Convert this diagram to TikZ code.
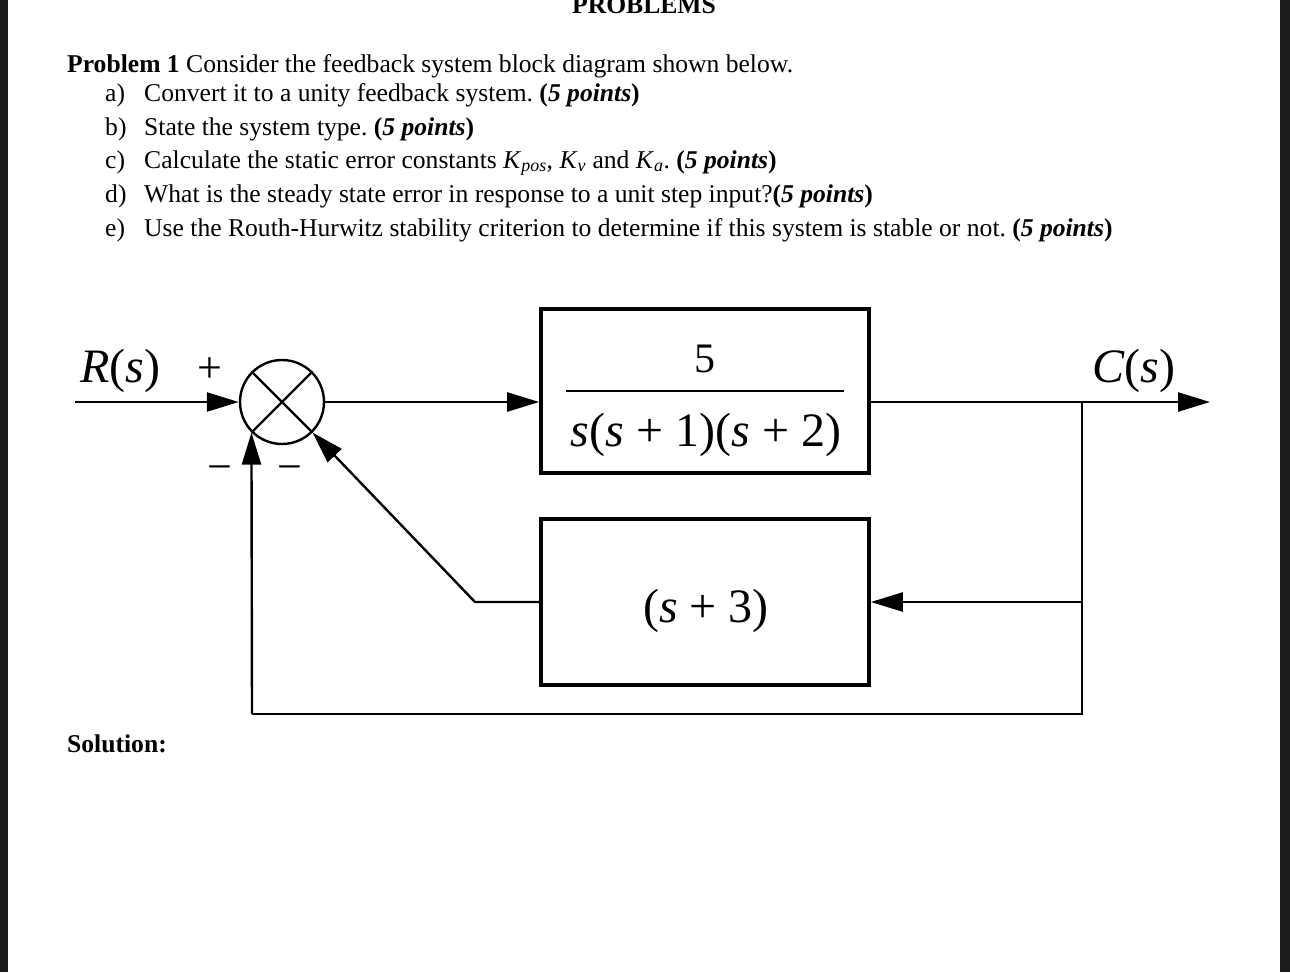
\documentclass[tikz,border=0pt]{standalone}
\usepackage{fontspec}
\setmainfont{Liberation Serif}
\usetikzlibrary{arrows.meta}
\frenchspacing
\begin{document}
\begin{tikzpicture}[x=1pt,y=-1pt,
  conn/.style={line width=2.4pt, line join=miter},
  arr/.style={conn, -{Triangle[length=32pt,width=19pt]}},
  blockbox/.style={draw, line width=3.6pt, rectangle, inner sep=0pt},
  txt/.style={inner sep=0pt, font=\fontsize{25.6}{30}\selectfont},
  dtxt/.style={inner sep=0pt, font=\fontsize{48}{58}\selectfont},
  sgn/.style={inner sep=0pt, anchor=base, font=\fontsize{44}{50}\selectfont}
]
\useasboundingbox (0,0) rectangle (1290,972);
\fill[white] (0,0) rectangle (1290,972);
% dark side bars
\fill[black!89] (0,0) rectangle (8,972);
\fill[black!89] (1280,0) rectangle (1290,972);

% ---- text ----
\begin{scope}
\clip (0,0) rectangle (1290,972);
\node[txt, anchor=base west] (title) at (572,13) {\textbf{PROBLEMS}};
\end{scope}
\node[txt, anchor=base west] (p1) at (67,72) {\textbf{Problem 1} Consider the feedback system block diagram shown below.};
\node[txt, anchor=base west] (la) at (105,101) {a)};
\node[txt, anchor=base west] (ta) at (144,101) {Convert it to a unity feedback system. \textbf{(\textit{5 points})}};
\node[txt, anchor=base west] (lb) at (105,135) {b)};
\node[txt, anchor=base west] (tb) at (144,135) {State the system type. \textbf{(\textit{5 points})}};
\node[txt, anchor=base west] (lc) at (105,168) {c)};
\node[txt, anchor=base west] (tc) at (144,168) {Calculate the static error constants \textit{K}\textsubscript{\textit{pos}}, \textit{K}\textsubscript{\textit{v}} and \textit{K}\textsubscript{\textit{a}}. \textbf{(\textit{5 points})}};
\node[txt, anchor=base west] (ld) at (105,202) {d)};
\node[txt, anchor=base west] (td) at (144,202) {What is the steady state error in response to a unit step input?\textbf{(\textit{5 points})}};
\node[txt, anchor=base west] (le) at (105,236) {e)};
\node[txt, anchor=base west] (te) at (144,236) {Use the Routh-Hurwitz stability criterion to determine if this system is stable or not. \textbf{(\textit{5 points})}};
\node[txt, anchor=base west] (sol) at (67,752) {\textbf{Solution:}};

% ---- diagram ----
\node[circle, draw, line width=2.4pt, minimum size=84pt, inner sep=0pt] (sum) at (282,402) {};
\draw[conn] (sum.45) -- (sum.225);
\draw[conn] (sum.135) -- (sum.-45);

\node[blockbox, minimum width=328pt, minimum height=164pt] (G) at (705,391) {};
\node[blockbox, minimum width=328pt, minimum height=166pt] (H) at (705,602) {};

\node[inner sep=0pt, anchor=base, font=\fontsize{42}{50}\selectfont] (num) at (705,372) {5};
\coordinate (fl) at (566,391);
\coordinate (fr) at (844,391);
\draw[line width=2pt] (fl) -- (fr);
\node[dtxt, anchor=base] (den) at (706,446) {\textit{s}(\textit{s} + 1)(\textit{s} + 2)};
\node[dtxt, anchor=base] (hs) at (706,622) {(\textit{s} + 3)};

\node[dtxt, anchor=base west] (Rs) at (80,382) {\textit{R}(\textit{s})};
\node[dtxt, anchor=base west] (Cs) at (1092,382) {\textit{C}(\textit{s})};
\node[sgn] (plus) at (210,382) {+};
\node[sgn] (m1) at (220,481) {−};
\node[sgn] (m2) at (290,481) {−};

\coordinate (in) at (75,402);
\coordinate (out) at (1210,402);
\coordinate (br) at (1082,402);
\coordinate (brh) at (1082,602);
\coordinate (bb) at (1082,714);
\coordinate (bl) at (252,714);
\coordinate (hk) at (475,602);

\draw[arr] (in) -- (sum.west);
\draw[arr] (sum.east) -- (sum.east -| G.west);
\draw[arr] (sum.east -| G.east) -- (out);
\draw[arr] (brh) -- (H.east);
\draw[conn] (br) -- (bb) -- (bl);
\draw[arr] (bl) -- (sum.225);
\draw[arr] (H.west) -- (hk) -- (sum.-45);
\end{tikzpicture}
\end{document}
